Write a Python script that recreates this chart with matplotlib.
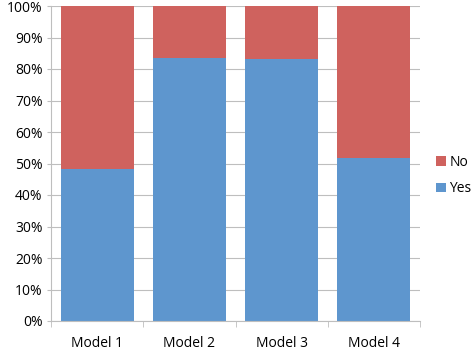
import matplotlib.pyplot as plt
from matplotlib.ticker import PercentFormatter

models = ["Model 1", "Model 2", "Model 3", "Model 4"]
yes = [48.2, 83.4, 83.3, 51.8]
no = [100 - v for v in yes]

blue = "#5E96CE"
red = "#CF625E"

plt.rcParams["font.family"] = ["Open Sans", "DejaVu Sans"]

fig = plt.figure(figsize=(4.72, 3.51), dpi=100)
ax = fig.add_axes([51 / 472, 30 / 351, 369 / 472, 315 / 351])

x = range(len(models))
ax.bar(x, yes, width=0.79, color=blue, label="Yes", zorder=2)
ax.bar(x, no, width=0.79, bottom=yes, color=red, label="No", zorder=2)

ax.set_xlim(-0.5, len(models) - 0.5)
ax.set_ylim(0, 100)
ax.set_yticks(range(0, 101, 10))
ax.yaxis.set_major_formatter(PercentFormatter(decimals=0))
ax.grid(axis="y", color="#BEBEBE", linewidth=0.8, zorder=0)

ax.set_xticks(x)
ax.set_xticklabels(models)
ax.set_xticks([i - 0.5 for i in range(len(models) + 1)], minor=True)
ax.tick_params(axis="x", which="major", length=0, pad=11, labelsize=10)
ax.tick_params(axis="x", which="minor", length=4, color="#BEBEBE", direction="out")
ax.tick_params(axis="y", length=3, color="#BEBEBE", labelsize=10, pad=3)

for side in ["top", "right"]:
    ax.spines[side].set_visible(False)
for side in ["left", "bottom"]:
    ax.spines[side].set_color("#BEBEBE")
    ax.spines[side].set_linewidth(0.8)

handles, labels = ax.get_legend_handles_labels()
fig.legend(handles[::-1], labels[::-1], loc="upper left",
           bbox_to_anchor=(432 / 472, 1 - 151 / 351),
           frameon=False, fontsize=10, handlelength=0.7, handleheight=0.7,
           handletextpad=0.25, labelspacing=0.8, borderaxespad=0, borderpad=0.3)

fig.savefig("out.png", dpi=100)
